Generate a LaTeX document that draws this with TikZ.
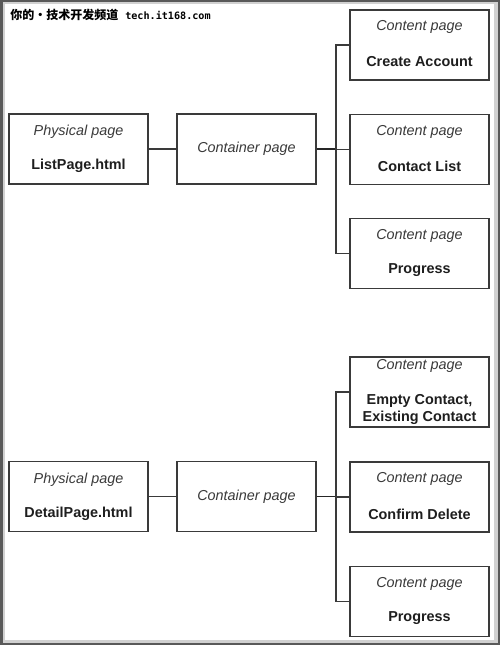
\documentclass[tikz,border=0pt]{standalone}
\usepackage{fontspec}
\setmainfont{Liberation Sans}
\newfontfamily\cjkfont{Noto Sans CJK SC}
\newfontfamily\wmmono{DejaVu Sans Mono}
\usetikzlibrary{calc}
\definecolor{boxline}{HTML}{3A3A3A}
\definecolor{txt}{HTML}{1E1E1E}
\definecolor{itxt}{HTML}{3A3A3A}
\tikzset{
  pg/.style={draw=boxline, line width=0.95pt, fill=white, minimum width=104.25pt, minimum height=52.5pt, inner sep=0pt},
  it/.style={font=\fontsize{10.8}{12}\selectfont\itshape, text=itxt, inner sep=0pt},
  bd/.style={font=\fontsize{10.8}{12}\selectfont\bfseries, text=txt, inner sep=0pt},
  conn/.style={draw=boxline, line width=0.8pt},
  trunk/.style={draw=black!85, line width=1.4pt},
}
\begin{document}
\begin{tikzpicture}[x=0.75pt, y=-0.75pt]
\useasboundingbox (0,0) rectangle (500,645);
% frame
\fill[black!65] (0,0) rectangle (500,645);
\fill[black!18] (2.5,2.5) rectangle (497.5,642.5);
\fill[white] (4.5,4.5) rectangle (494,640);
% watermark
\node[anchor=west, inner sep=0pt, font=\cjkfont\bfseries\fontsize{9}{11}\selectfont] (wm) at (10,15) {你的•技术开发频道};
\node[anchor=west, inner sep=0pt, font=\wmmono\bfseries\fontsize{7.6}{9}\selectfont] (wm2) at (125,15.5) {tech.it168.com};

% ---------- top group ----------
\node[pg] (p1) at (78.5,149) {};
\node[it] at ($(p1.center)+(0,-17)$) {Physical page};
\node[bd] at ($(p1.center)+(0,17)$) {ListPage.html};
\node[pg] (c1) at (246.5,149) {};
\node[it] at (c1.center) {Container page};

\node[pg] (k1) at (419.5,45) {};
\node[it] at ($(k1.center)+(0,-18)$) {Content page};
\node[bd] at ($(k1.center)+(0,17)$) {Create Account};
\node[pg] (k2) at (419.5,149.5) {};
\node[it] at ($(k2.center)+(0,-18)$) {Content page};
\node[bd] at ($(k2.center)+(0,17)$) {Contact List};
\node[pg] (k3) at (419.5,253.5) {};
\node[it] at ($(k3.center)+(0,-18)$) {Content page};
\node[bd] at ($(k3.center)+(0,17)$) {Progress};

\coordinate (bus1) at (336,0);
\draw[conn] (p1.east) -- (c1.west);
\draw[trunk] (c1.east) -- (c1.east -| bus1);
\draw[conn] (k1.west) -- (k1.west -| bus1) -- (k3.west -| bus1) -- (k3.west);
\draw[conn] (k2.west) -- (k2.west -| bus1);

% ---------- bottom group ----------
\node[pg] (p2) at (78.5,496.5) {};
\node[it] at ($(p2.center)+(0,-17)$) {Physical page};
\node[bd] at ($(p2.center)+(0,17)$) {DetailPage.html};
\node[pg] (c2) at (246.5,496.5) {};
\node[it] at (c2.center) {Container page};

\node[pg] (m1) at (419.5,392) {};
\node[it] at ($(m1.center)+(0,-26)$) {Content page};
\node[bd] at ($(m1.center)+(0,9)$) {Empty Contact,};
\node[bd] at ($(m1.center)+(0,26)$) {Existing Contact};
\node[pg] (m2) at (419.5,497) {};
\node[it] at ($(m2.center)+(0,-18)$) {Content page};
\node[bd] at ($(m2.center)+(0,17)$) {Confirm Delete};
\node[pg] (m3) at (419.5,601.5) {};
\node[it] at ($(m3.center)+(0,-18)$) {Content page};
\node[bd] at ($(m3.center)+(0,17)$) {Progress};

\coordinate (bus2) at (336,0);
\draw[conn] (p2.east) -- (c2.west);
\draw[trunk] (c2.east) -- (c2.east -| bus2);
\draw[conn] (m1.west) -- (m1.west -| bus2) -- (m3.west -| bus2) -- (m3.west);
\draw[conn] (m2.west) -- (m2.west -| bus2);
\end{tikzpicture}
\end{document}
